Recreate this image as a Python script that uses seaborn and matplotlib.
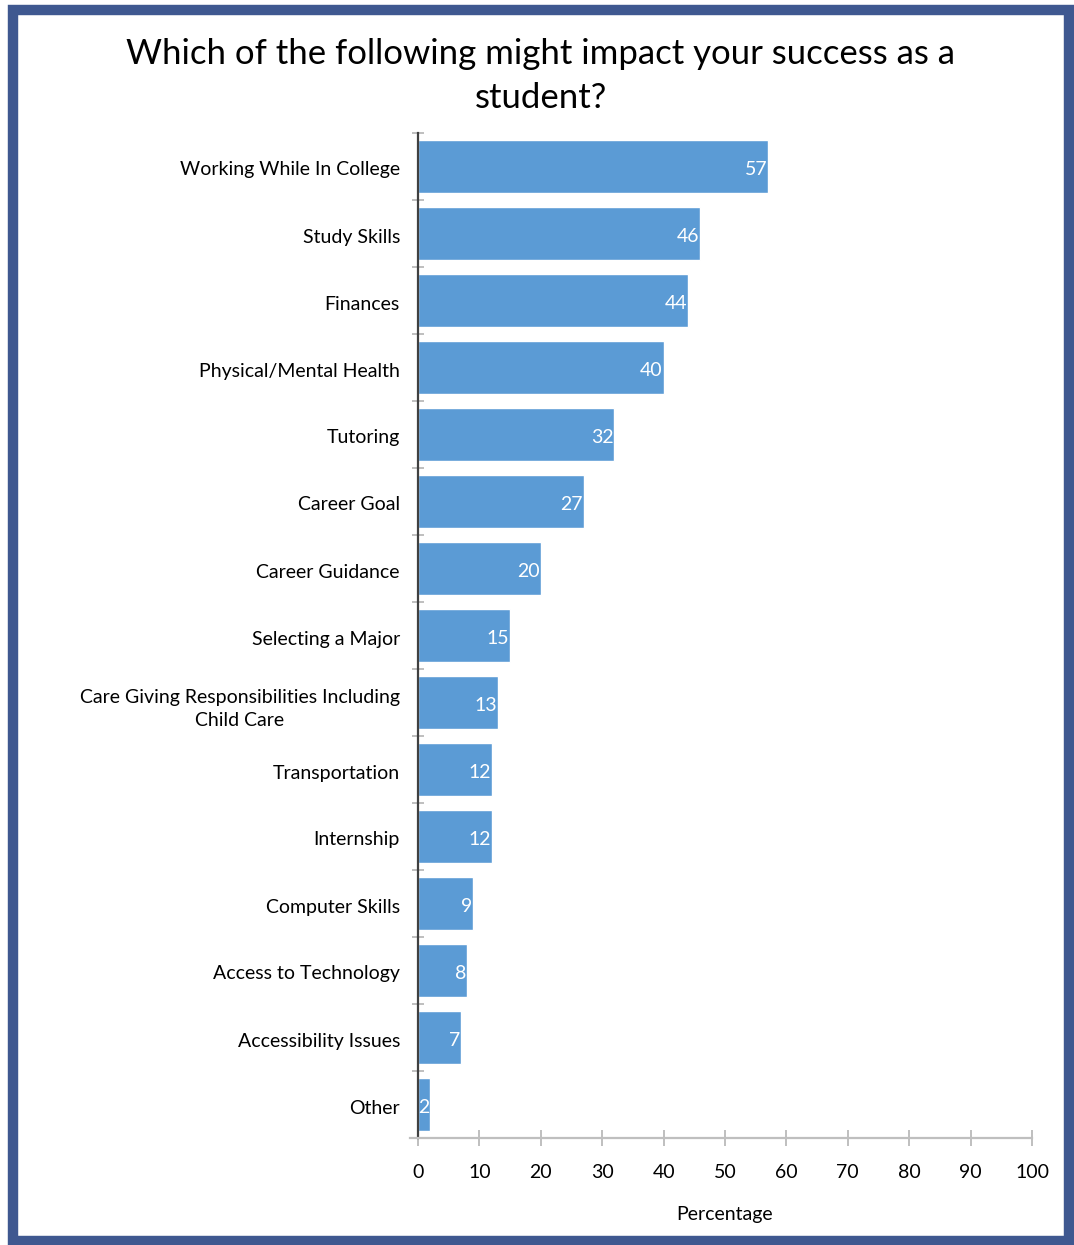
import matplotlib
matplotlib.use("Agg")
import matplotlib.pyplot as plt
from matplotlib.patches import Rectangle
from matplotlib.ticker import FixedLocator
import seaborn as sns
import pandas as pd

categories = [
    "Working While In College",
    "Study Skills",
    "Finances",
    "Physical/Mental Health",
    "Tutoring",
    "Career Goal",
    "Career Guidance",
    "Selecting a Major",
    "Care Giving Responsibilities Including\nChild Care",
    "Transportation",
    "Internship",
    "Computer Skills",
    "Access to Technology",
    "Accessibility Issues",
    "Other",
]
percentages = [57, 46, 44, 40, 32, 27, 20, 15, 13, 12, 12, 9, 8, 7, 2]
x_ticks = [0, 10, 20, 30, 40, 50, 60, 70, 80, 90, 100]

title = "Which of the following might impact your success as a\nstudent?"
x_label = "Percentage"

BAR_COLOR = "#5b9bd5"
FRAME_COLOR = "#3f5890"
GRID_GRAY = "#bfbfbf"
SPINE_DARK = "#404040"

sns.set_theme(style="white")
plt.rcParams["font.family"] = ["Lato", "DejaVu Sans"]

W, H = 1074, 1245
fig = plt.figure(figsize=(W / 100, H / 100), dpi=100)
fig.patch.set_facecolor("white")

ax_left, ax_right = 418 / W, 1032 / W
ax_top, ax_bottom = 1 - 133 / H, 1 - 1138 / H
ax = fig.add_axes([ax_left, ax_bottom, ax_right - ax_left, ax_top - ax_bottom])

df = pd.DataFrame({"category": categories, "pct": percentages})
sns.barplot(data=df, x="pct", y="category", color=BAR_COLOR, saturation=1,
            width=0.78, ax=ax, orient="h")

ax.set_xlim(0, 100)
ax.set_ylim(len(categories) - 0.5, -0.5)
ax.xaxis.set_major_locator(FixedLocator(x_ticks))
ax.set_xticklabels([str(t) for t in x_ticks])

# value labels inside bar ends
for i, v in enumerate(percentages):
    ax.text(v - 0.15, i + 0.04, str(v), ha="right", va="center", color="white",
            fontsize=14)

# spines
for s in ["top", "right"]:
    ax.spines[s].set_visible(False)
ax.spines["left"].set_color(SPINE_DARK)
ax.spines["left"].set_linewidth(1.6)
ax.spines["bottom"].set_color(GRID_GRAY)
ax.spines["bottom"].set_linewidth(1.6)
ax.spines["bottom"].set_bounds(-1.3, 100)

# y ticks: labels at centres, tick marks at category boundaries
ax.yaxis.set_minor_locator(FixedLocator([i - 0.5 for i in range(len(categories) + 1)]))
ax.tick_params(axis="y", which="major", length=0, pad=13, labelsize=14,
               labelcolor="black")
ax.tick_params(axis="y", which="minor", length=8, width=1.4,
               direction="inout", color=GRID_GRAY, left=True)
ax.tick_params(axis="x", which="major", length=11, width=1.4,
               direction="inout", color=GRID_GRAY, pad=13, labelsize=14,
               labelcolor="black", bottom=True)
for lbl in ax.get_yticklabels():
    lbl.set_multialignment("center")
    lbl.set_linespacing(1.45)
    lbl.set_y(lbl.get_position()[1])
ax.set_yticks(range(len(categories)))
ax.set_yticklabels(categories)
for lbl in ax.get_yticklabels():
    lbl.set_multialignment("center")
    lbl.set_linespacing(1.45)
    lbl.set_transform(lbl.get_transform() +
                      matplotlib.transforms.ScaledTranslation(0, -2 / 100, fig.dpi_scale_trans))

ax.set_ylabel("")
ax.set_xlabel(x_label, fontsize=14, color="black")
ax.xaxis.set_label_coords((725 / W - ax_left) / (ax_right - ax_left),
                          (1 - 1206 / H - ax_bottom) / (ax_top - ax_bottom))

fig.text(541 / W, 1 - 76 / H, title, ha="center", va="center",
         fontsize=25, linespacing=1.45, color="black")

# outer frame
fig.patches.append(Rectangle((13 / W, 1 - 1241 / H), (1069 - 13) / W,
                             (1241 - 10) / H, transform=fig.transFigure,
                             fill=False, edgecolor=FRAME_COLOR,
                             linewidth=7.5, zorder=10))

fig.savefig("out.png", dpi=100, facecolor="white")
